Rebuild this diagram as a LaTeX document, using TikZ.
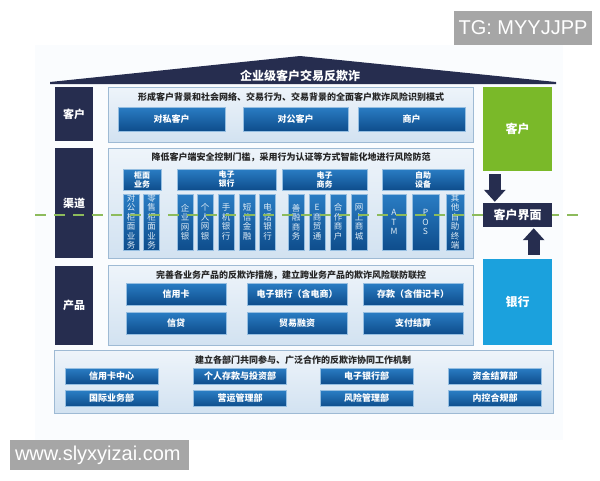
\documentclass[tikz,border=0pt]{standalone}
\usepackage{fontspec}
\setmainfont{Noto Sans CJK SC}
\newfontfamily\wmfont{Liberation Sans}
\usetikzlibrary{arrows.meta}

\definecolor{navy}{HTML}{262D4F}
\definecolor{boxtop}{HTML}{2A7DC4}
\definecolor{boxbot}{HTML}{0E4D8C}
\definecolor{paneltop}{HTML}{EEF4FA}
\definecolor{panelbot}{HTML}{D2E2F1}
\definecolor{panelline}{HTML}{9EBAD4}
\definecolor{leafgreen}{HTML}{7AB929}
\definecolor{bankblue}{HTML}{1BA1DD}
\definecolor{dashgreen}{HTML}{8DBB5C}
\definecolor{wmgray}{HTML}{A6A6A6}
\definecolor{bgtint}{HTML}{FAFCFE}

\tikzset{
  darkbox/.style={fill=navy, text=white, inner sep=0pt, font=\fontsize{11}{13}\selectfont\bfseries},
  panel/.style={draw=panelline, line width=0.8pt, top color=paneltop, bottom color=panelbot, inner sep=0pt},
  bluebox/.style={draw=boxtop!50!white, line width=0.4pt, top color=boxtop, bottom color=boxbot,
    text=white, inner sep=0pt, font=\fontsize{9}{11}\selectfont\bfseries},
  catbox/.style={bluebox, align=center, font=\fontsize{8}{9}\selectfont\bfseries},
  chanbox/.style={bluebox, align=center, text=white!85!boxtop, font=\fontsize{8.5}{9.5}\selectfont},
  headtext/.style={text=black!85, inner sep=0pt, font=\fontsize{9}{11}\selectfont\bfseries},
  sidebox/.style={text=white, inner sep=0pt, minimum width=69pt, font=\fontsize{12}{14}\selectfont\bfseries},
  blockarrow/.style={navy, line width=12pt, -{Triangle[length=12pt,width=21pt]}},
  greendash/.style={dashgreen, line width=2.5pt, dash pattern=on 11pt off 8pt},
  wmbox/.style={fill=wmgray, text=white, inner sep=0pt, font=\wmfont\fontsize{20}{22}\selectfont}
}

\begin{document}
\begin{tikzpicture}[x=1pt, y=-1pt]
\useasboundingbox (0,0) rectangle (600,480);
\fill [bgtint] (35,45) rectangle (563,440);

% roof
\fill [navy] (50,84) -- (50,82) -- (300,56) -- (556,82) -- (556,84) -- cycle;
\node [text=white, inner sep=0pt, font=\fontsize{12}{14}\selectfont\bfseries] (title) at (300,76) {企业级客户交易反欺诈};

% left column
\node [darkbox, minimum width=38pt, minimum height=54pt] (lKehu) at (74,114) {客户};
\node [darkbox, minimum width=38pt, minimum height=110pt] (lQudao) at (74,203) {渠道};
\node [darkbox, minimum width=38pt, minimum height=79pt] (lChanpin) at (74,305.5) {产品};

% panels
\node [panel, minimum width=365pt, minimum height=55pt] (pKehu) at (290.5,114.5) {};
\node [panel, minimum width=365pt, minimum height=110pt] (pQudao) at (290.5,203) {};
\node [panel, minimum width=365pt, minimum height=80pt] (pChanpin) at (290.5,305) {};
\node [panel, minimum width=499pt, minimum height=63pt] (pBumen) at (303.5,381.5) {};

% customer row
\node [headtext] (hKehu) at (291,97) {形成客户背景和社会网络、交易行为、交易背景的全面客户欺诈风险识别模式};
\node [bluebox, minimum width=107pt, minimum height=24pt] (kSi) at (171.5,119) {对私客户};
\node [bluebox, minimum width=105pt, minimum height=24pt] (kGong) at (295.5,119) {对公客户};
\node [bluebox, minimum width=107pt, minimum height=24pt] (kShang) at (411.5,119) {商户};

% channel row
\node [headtext] (hQudao) at (291,157) {降低客户端安全控制门槛，采用行为认证等方式智能化地进行风险防范};
\node [catbox, minimum width=38pt, minimum height=21pt] (cGui) at (142,179.5) {柜面\\业务};
\node [catbox, minimum width=99pt, minimum height=21pt] (cEbank) at (226.5,179.5) {电子\\银行};
\node [catbox, minimum width=85pt, minimum height=21pt] (cEcom) at (324.5,179.5) {电子\\商务};
\node [catbox, minimum width=82pt, minimum height=21pt] (cSelf) at (423,179.5) {自助\\设备};

\node [chanbox, minimum width=16pt, minimum height=56pt] (q1) at (131,222) {对\\公\\柜\\面\\业\\务};
\node [chanbox, minimum width=16pt, minimum height=56pt] (q2) at (151.5,222) {零\\售\\柜\\面\\业\\务};
\node [chanbox, minimum width=16pt, minimum height=56pt] (q3) at (185,222) {企\\业\\网\\银};
\node [chanbox, minimum width=16pt, minimum height=56pt] (q4) at (205,222) {个\\人\\网\\银};
\node [chanbox, minimum width=16pt, minimum height=56pt] (q5) at (226,222) {手\\机\\银\\行};
\node [chanbox, minimum width=16pt, minimum height=56pt] (q6) at (247,222) {短\\信\\金\\融};
\node [chanbox, minimum width=16pt, minimum height=56pt] (q7) at (267.5,222) {电\\话\\银\\行};
\node [chanbox, minimum width=16pt, minimum height=56pt] (q8) at (296,222) {善\\融\\商\\务};
\node [chanbox, minimum width=16pt, minimum height=56pt] (q9) at (317,222) {E\\商\\贸\\通};
\node [chanbox, minimum width=16pt, minimum height=56pt] (q10) at (338,222) {合\\作\\商\\户};
\node [chanbox, minimum width=16pt, minimum height=56pt] (q11) at (359,222) {网\\上\\商\\城};
\node [chanbox, minimum width=24pt, minimum height=56pt] (q12) at (394,222) {A\\T\\M};
\node [chanbox, minimum width=27pt, minimum height=56pt] (q13) at (425.5,222) {P\\O\\S};
\node [chanbox, minimum width=18pt, minimum height=56pt] (q14) at (455,222) {其\\他\\自\\助\\终\\端};

% product row
\node [headtext] (hChanpin) at (291,275) {完善各业务产品的反欺诈措施，建立跨业务产品的欺诈风险联防联控};
\node [bluebox, minimum width=100pt, minimum height=22pt] (pr1) at (176,294) {信用卡};
\node [bluebox, minimum width=100pt, minimum height=22pt] (pr2) at (297,294) {电子银行（含电商）};
\node [bluebox, minimum width=100pt, minimum height=22pt] (pr3) at (413,294) {存款（含借记卡）};
\node [bluebox, minimum width=100pt, minimum height=22pt] (pr4) at (176,323) {信贷};
\node [bluebox, minimum width=100pt, minimum height=22pt] (pr5) at (297,323) {贸易融资};
\node [bluebox, minimum width=100pt, minimum height=22pt] (pr6) at (413,323) {支付结算};

% department row
\node [headtext] (hBumen) at (303,360) {建立各部门共同参与、广泛合作的反欺诈协同工作机制};
\node [bluebox, minimum width=93pt, minimum height=16pt] (b1) at (111.5,376) {信用卡中心};
\node [bluebox, minimum width=93pt, minimum height=16pt] (b2) at (240,376) {个人存款与投资部};
\node [bluebox, minimum width=93pt, minimum height=16pt] (b3) at (366.5,376) {电子银行部};
\node [bluebox, minimum width=93pt, minimum height=16pt] (b4) at (495,376) {资金结算部};
\node [bluebox, minimum width=93pt, minimum height=16pt] (b5) at (111.5,398.5) {国际业务部};
\node [bluebox, minimum width=93pt, minimum height=16pt] (b6) at (240,398.5) {营运管理部};
\node [bluebox, minimum width=93pt, minimum height=16pt] (b7) at (366.5,398.5) {风险管理部};
\node [bluebox, minimum width=93pt, minimum height=16pt] (b8) at (495,398.5) {内控合规部};

% dashed boundary
\coordinate (dashL) at (35,215);
\coordinate (dashR) at (578,215);
\draw [greendash] (dashL) -- (dashR);

% right column
\node [sidebox, fill=leafgreen, minimum height=84pt] (rKehu) at (517.5,129) {客户};
\node [sidebox, fill=navy, minimum height=24pt] (rJiemian) at (517.5,215) {客户界面};
\node [sidebox, fill=bankblue, minimum height=86pt] (rYinhang) at (517.5,302) {银行};

\draw [blockarrow, shorten <=3pt, shorten >=1pt] ([xshift=12pt]rKehu.south west) -- ([xshift=12pt]rJiemian.north west);
\draw [blockarrow, shorten <=4pt, shorten >=1pt] ([xshift=-18.5pt]rYinhang.north east) -- ([xshift=-18.5pt]rJiemian.south east);

% watermarks
\node [wmbox, minimum width=138pt, minimum height=34pt] (wmTG) at (523,28) {TG: MYYJJPP};
\node [wmbox, text width=169pt, align=left, inner xsep=5pt, minimum height=30pt] (wmSite) at (99.5,455) {www.slyxyizai.com};

\end{tikzpicture}
\end{document}
